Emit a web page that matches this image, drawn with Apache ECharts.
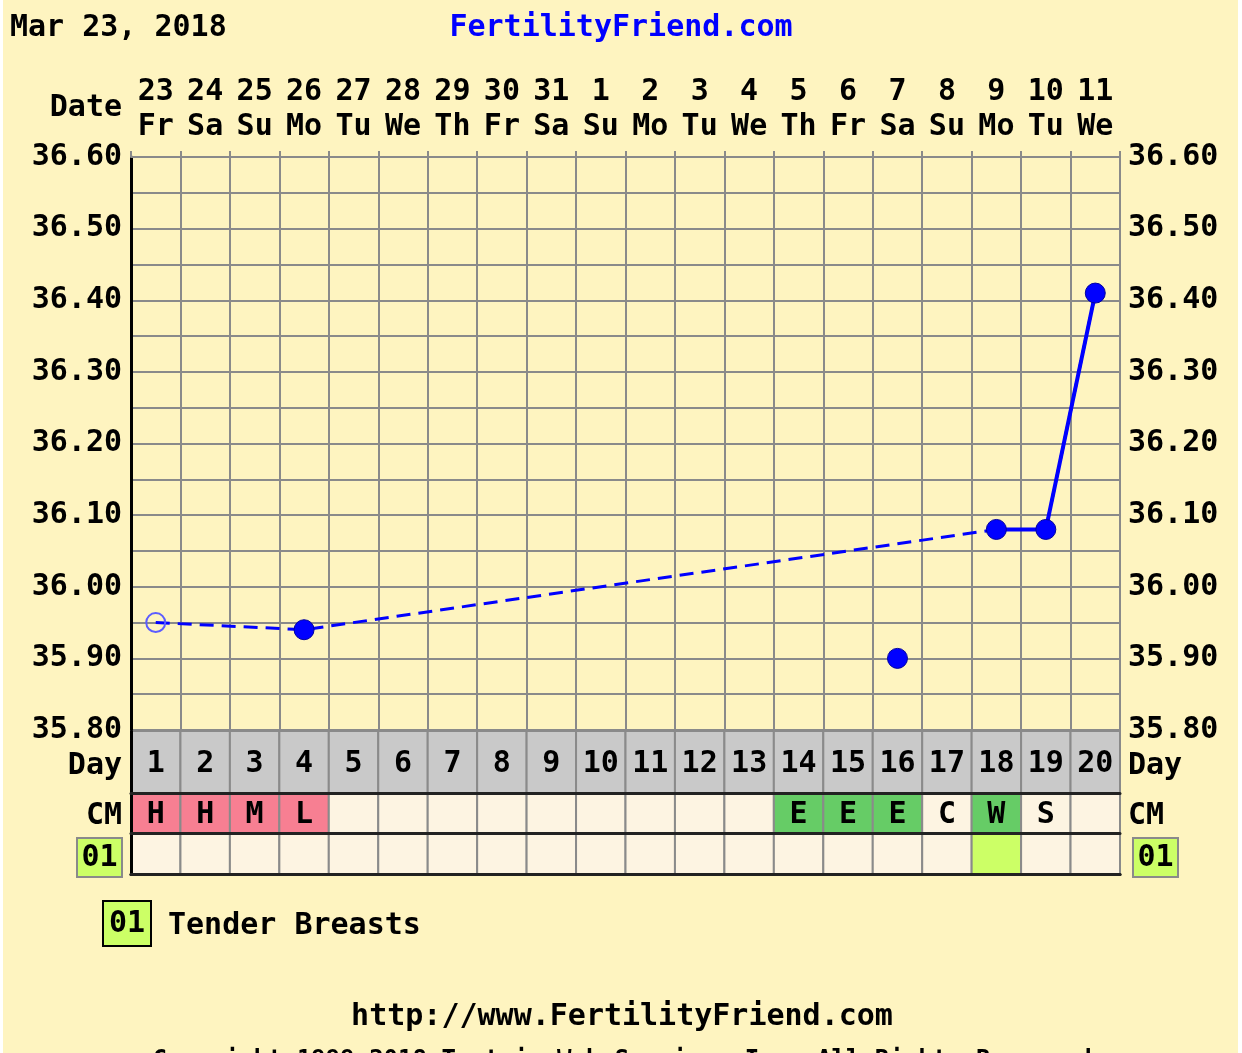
<!DOCTYPE html>
<html>
<head>
<meta charset="utf-8">
<script src="https://cdn.jsdelivr.net/npm/echarts@6/dist/echarts.min.js"></script>
<style>
  html, body { margin: 0; padding: 0; background: #fef4c0; }
  #chart { width: 1242px; height: 1053px; }
</style>
</head>
<body>
<div id="chart"></div>
<script>
  // chart data
  const dates = ['23', '24', '25', '26', '27', '28', '29', '30', '31', '1', '2', '3', '4', '5', '6', '7', '8', '9', '10', '11'];
  const weekdays = ['Fr', 'Sa', 'Su', 'Mo', 'Tu', 'We', 'Th', 'Fr', 'Sa', 'Su', 'Mo', 'Tu', 'We', 'Th', 'Fr', 'Sa', 'Su', 'Mo', 'Tu', 'We'];
  const cycleDays = ['1', '2', '3', '4', '5', '6', '7', '8', '9', '10', '11', '12', '13', '14', '15', '16', '17', '18', '19', '20'];
  const temps = [35.95, null, null, 35.94, null, null, null, null, null, null, null, null, null, null, null, 35.90, null, 36.08, 36.08, 36.41];
  const openDays = [1];       // hollow marker
  const discardedDays = [16]; // left out of the line
  const cmCodes = ['H', 'H', 'M', 'L', '', '', '', '', '', '', '', '', '', 'E', 'E', 'E', 'C', 'W', 'S', ''];
  const tenderBreasts = [0, 0, 0, 0, 0, 0, 0, 0, 0, 0, 0, 0, 0, 0, 0, 0, 0, 1, 0, 0];
  const tempMin = 35.8, tempMax = 36.6, tempStep = 0.05;

  const FONT = '"DejaVu Sans Mono", monospace';
  const SIZE = 30;
  const BIG = 'bold ' + SIZE + 'px ' + FONT;
  const BLUE = '#0000ff';
  const GRID = '#8a8a8a';
  const cmColor = {H: '#f77f92', M: '#f77f92', L: '#f77f92', E: '#66cc66', W: '#66cc66'};
  const CREAM = '#fdf4e2';

  // split temps into the different pieces
  const lineData = temps.map((t, i) => discardedDays.indexOf(i + 1) >= 0 ? null : t);
  const solidData = lineData.map((t, i) => {
    if (t == null) return null;
    const prev = i > 0 ? lineData[i - 1] : null;
    const next = i < lineData.length - 1 ? lineData[i + 1] : null;
    return (prev != null || next != null) ? t : null;
  });
  const filledPts = temps.map((t, i) => openDays.indexOf(i + 1) >= 0 ? null : t);
  const openPts = temps.map((t, i) => openDays.indexOf(i + 1) >= 0 ? t : null);

  let myChart = echarts.init(document.getElementById('chart'));

  function cellRender(fillOf, textOf) {
    return function (params, api) {
      let x = api.value(0);
      let p0 = api.coord([x, 0]);
      let p1 = api.coord([x, 1]);
      let w = api.size([1, 0])[0];
      let children = [{
        type: 'rect',
        shape: {x: p0[0] - w / 2, y: p1[1], width: w, height: p0[1] - p1[1]},
        style: {fill: fillOf(params.dataIndex), stroke: GRID, lineWidth: 2}
      }];
      let txt = textOf(params.dataIndex);
      if (txt) {
        children.push({
          type: 'text',
          x: p0[0], y: (p0[1] + p1[1]) / 2 + 2,
          style: {text: txt, font: BIG, fill: '#000', align: 'center', verticalAlign: 'middle',
                   textAlign: 'center', textVerticalAlign: 'middle'}
        });
      }
      return {type: 'group', children: children};
    };
  }

  function label(text, x, y, align, color, font) {
    return {
      type: 'text', x: x, y: y, z: 10,
      style: {text: text, font: font || BIG, fill: color || '#000',
              align: align || 'left', verticalAlign: 'middle',
              textAlign: align || 'left', textVerticalAlign: 'middle'}
    };
  }
  function badge(x, y, w, h, border) {
    return [
      {type: 'rect', shape: {x: x, y: y, width: w, height: h}, z: 10,
       style: {fill: '#ccff66', stroke: border, lineWidth: 2}},
      label('01', x + w / 2, y + h / 2 + 1, 'center')
    ];
  }

  const rowIdx = cycleDays.map((d, i) => [i, 1]);
  const catAxis = (grid, pos) => ({
    type: 'category', gridIndex: grid, position: pos, data: cycleDays, boundaryGap: true, z: 10,
    axisLine: {show: true, lineStyle: {color: '#222', width: 3}},
    axisTick: {show: false}, axisLabel: {show: false}, splitLine: {show: false}
  });
  const rowY = (grid) => ({
    type: 'value', gridIndex: grid, min: 0, max: 1, splitLine: {show: false}, z: 10,
    axisLabel: {show: false}, axisTick: {show: false},
    axisLine: {show: true, lineStyle: {color: '#000', width: 3}}
  });
  const tempLabel = (margin) => ({
    margin: margin, color: '#000', fontSize: SIZE, fontWeight: 'bold', fontFamily: FONT,
    formatter: v => Math.round(v * 100) % 10 === 0 ? v.toFixed(2) : ''
  });

  let option = {
    backgroundColor: '#fef4c0',
    animation: false,
    grid: [
      {left: 131, right: 122, top: 157, height: 573},
      {left: 131, right: 122, top: 731, height: 62},
      {left: 131, right: 122, top: 793, height: 40},
      {left: 131, right: 122, top: 833, height: 41}
    ],
    xAxis: [
      {
        type: 'category', gridIndex: 0, position: 'top', data: dates, boundaryGap: true,
        axisLine: {lineStyle: {color: GRID, width: 2}},
        axisTick: {show: true, length: 6, lineStyle: {color: GRID, width: 2}},
        axisLabel: {
          interval: 0, margin: 12, color: '#000', fontSize: SIZE, fontWeight: 'bold',
          fontFamily: FONT, lineHeight: 35,
          formatter: (v, i) => dates[i] + '\n' + weekdays[i]
        },
        splitLine: {show: true, interval: 0, lineStyle: {color: GRID, width: 2}}
      },
      catAxis(1, 'top'),
      catAxis(2, 'top'),
      catAxis(3, 'top'),
      catAxis(3, 'bottom')
    ],
    yAxis: [
      {
        type: 'value', gridIndex: 0, position: 'left', min: tempMin, max: tempMax, interval: tempStep,
        axisLine: {show: true, lineStyle: {color: '#000', width: 3}},
        axisTick: {show: false},
        axisLabel: tempLabel(9),
        splitLine: {show: true, lineStyle: {color: GRID, width: 2}}
      },
      {
        type: 'value', gridIndex: 0, position: 'right', min: tempMin, max: tempMax, interval: tempStep,
        axisLine: {show: true, lineStyle: {color: GRID, width: 2}},
        axisTick: {show: false},
        axisLabel: tempLabel(8),
        splitLine: {show: false}
      },
      rowY(1), rowY(2), rowY(3)
    ],
    series: [
      {
        name: 'trend', type: 'line', xAxisIndex: 0, yAxisIndex: 0, data: lineData,
        connectNulls: true, showSymbol: false, symbol: 'none', z: 3,
        lineStyle: {color: BLUE, width: 3, type: [14, 8]}
      },
      {
        name: 'solid', type: 'line', xAxisIndex: 0, yAxisIndex: 0, data: solidData,
        connectNulls: false, symbol: 'none', z: 4,
        lineStyle: {color: BLUE, width: 4}
      },
      {
        name: 'points', type: 'scatter', xAxisIndex: 0, yAxisIndex: 0, data: filledPts,
        symbol: 'circle', symbolSize: 20, z: 5,
        itemStyle: {color: BLUE, borderColor: '#0000a0', borderWidth: 1, opacity: 1}
      },
      {
        name: 'open', type: 'scatter', xAxisIndex: 0, yAxisIndex: 0, data: openPts,
        symbol: 'circle', symbolSize: 19, z: 5,
        itemStyle: {color: 'rgba(0,0,0,0)', borderColor: '#5c5cff', borderWidth: 2, opacity: 1}
      },
      {
        name: 'day', type: 'custom', xAxisIndex: 1, yAxisIndex: 2, data: rowIdx,
        renderItem: cellRender(() => '#c9c9c9', i => cycleDays[i])
      },
      {
        name: 'cm', type: 'custom', xAxisIndex: 2, yAxisIndex: 3, data: rowIdx,
        renderItem: cellRender(i => cmColor[cmCodes[i]] || CREAM, i => cmCodes[i])
      },
      {
        name: 'tender', type: 'custom', xAxisIndex: 3, yAxisIndex: 4, data: rowIdx,
        renderItem: cellRender(i => tenderBreasts[i] ? '#ccff66' : CREAM, () => '')
      }
    ],
    graphic: [
      {type: 'rect', shape: {x: 0, y: 0, width: 3, height: 1053}, style: {fill: '#ffffff'}},
      {type: 'rect', shape: {x: 1238, y: 0, width: 4, height: 1053}, style: {fill: '#ffffff'}},
      label('Mar 23, 2018', 10, 28, 'left'),
      label('FertilityFriend.com', 621, 28, 'center', BLUE),
      label('Date', 122, 108, 'right'),
      label('Day', 122, 766, 'right'),
      label('Day', 1128, 766, 'left'),
      label('CM', 122, 816, 'right'),
      label('CM', 1128, 816, 'left'),
      ...badge(77, 838, 45, 39, '#8a8a8a'),
      ...badge(1133, 838, 45, 39, '#8a8a8a'),
      ...badge(103, 901, 48, 45, '#000'),
      label('Tender Breasts', 168, 926, 'left'),
      label('http://www.FertilityFriend.com', 622, 1017, 'center'),
      label('Copyright 1999-2018 Tamtris Web Services Inc. All Rights Reserved', 622, 1061, 'center', '#000', 'bold 24px ' + FONT)
    ]
  };
  myChart.setOption(option);
</script>
</body>
</html>
